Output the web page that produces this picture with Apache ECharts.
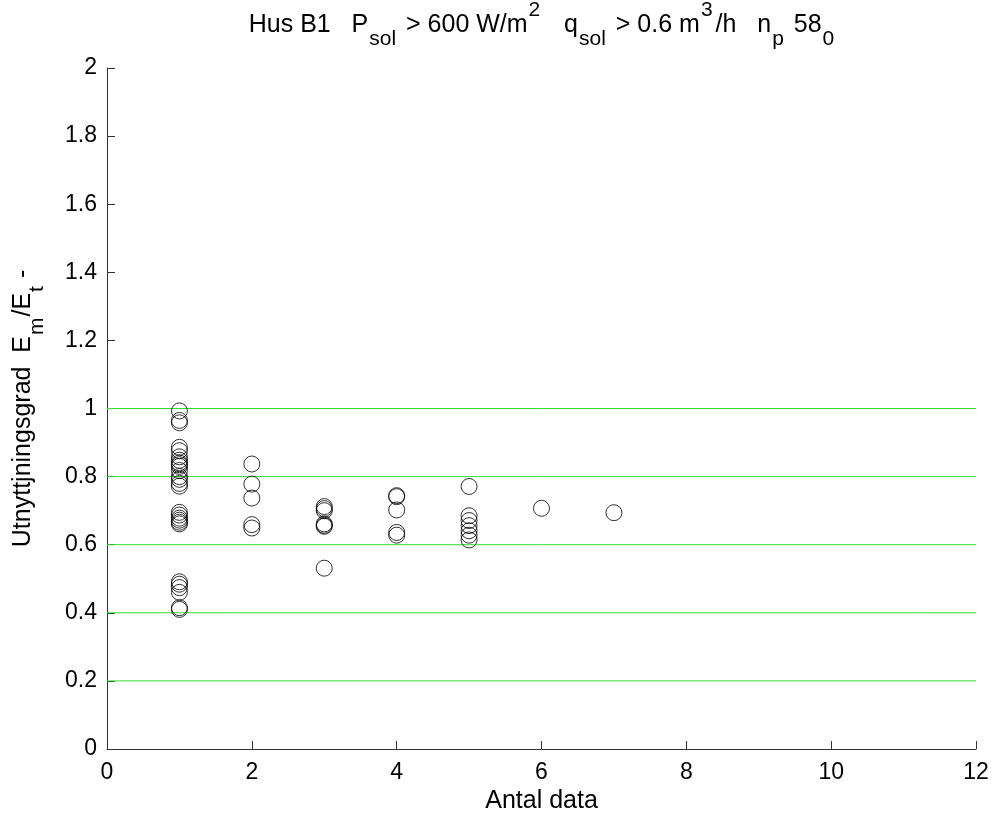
<!DOCTYPE html>
<html>
<head>
<meta charset="utf-8">
<script src="https://cdn.jsdelivr.net/npm/echarts@6/dist/echarts.min.js"></script>
<style>
html,body{margin:0;padding:0;background:#fff;}
#chart{width:994px;height:820px;}
</style>
</head>
<body>
<div id="chart"></div>
<script>
// Antal data (x) and Utnyttjningsgrad values per x
const antal1 = [0.993, 0.965, 0.958, 0.886, 0.876, 0.858, 0.848, 0.84, 0.835, 0.83, 0.818, 0.80, 0.792, 0.78, 0.772,
                0.695, 0.687, 0.678, 0.672, 0.666, 0.661, 0.491, 0.484, 0.474, 0.46, 0.415, 0.41];
const antal2 = [0.837, 0.778, 0.737, 0.659, 0.649];
const antal3 = [0.712, 0.706, 0.70, 0.661, 0.657, 0.654, 0.531];
const antal4 = [0.744, 0.741, 0.702, 0.636, 0.628];
const antal5 = [0.771, 0.685, 0.671, 0.656, 0.641, 0.628, 0.614];
const antal6 = [0.707];
const antal7 = [0.694];
const groups = [[1, antal1], [2, antal2], [3, antal3], [4, antal4], [5, antal5], [6, antal6], [7, antal7]];
const gridLevels = [0.2, 0.4, 0.6, 0.8, 1.0];
const xRange = [0, 12];

const points = [];
groups.forEach(([x, vals]) => vals.forEach(v => points.push([x, v])));

const FONT = 'Liberation Sans';
const chart = echarts.init(document.getElementById('chart'), null, {renderer: 'canvas'});

const levelSeries = gridLevels.map(v => ({
  type: 'line',
  data: [[xRange[0], v], [xRange[1], v]],
  symbol: 'none',
  silent: true,
  lineStyle: {color: '#33dd33', width: 1},
  z: 1
}));

const subStyle = {fontFamily: FONT, fontSize: 21, lineHeight: 22, verticalAlign: 'bottom', color: '#000', padding: [0, 3, 0, 1]};
const supStyle = {fontFamily: FONT, fontSize: 21, lineHeight: 34, verticalAlign: 'top', color: '#000', padding: [0, 3, 0, 1]};
const ySubStyle = {fontFamily: FONT, fontSize: 21, lineHeight: 22, verticalAlign: 'bottom', color: '#000', padding: [0, 1, 0, 1]};

chart.setOption({
  animation: false,
  backgroundColor: '#fff',
  title: {
    text: 'Hus B1   P{sub|sol} > 600 W/m{sup|2}   q{sub|sol} > 0.6 m{sup|3}/h   n{sub|p} 58{sub|0}',
    left: 543,
    textAlign: 'center',
    top: 0,
    padding: 0,
    textStyle: {
      fontFamily: FONT, fontSize: 25, fontWeight: 'normal', color: '#000',
      lineHeight: 50,
      rich: {sub: subStyle, sup: supStyle}
    }
  },
  grid: {left: 107, right: 18, top: 68, bottom: 71, containLabel: false, outerBoundsMode: 'none'},
  xAxis: {
    type: 'value', min: 0, max: 12, interval: 2,
    name: 'Antal data', nameLocation: 'middle', nameGap: 38,
    nameTextStyle: {fontFamily: FONT, fontSize: 25, color: '#000'},
    axisLine: {show: true, onZero: false, lineStyle: {color: '#333', width: 1}},
    axisTick: {show: true, inside: true, length: 8, lineStyle: {color: '#333'}},
    axisLabel: {fontFamily: FONT, fontSize: 23, color: '#000', margin: 12},
    splitLine: {show: false}
  },
  yAxis: {
    type: 'value', min: 0, max: 2, interval: 0.2,
    name: 'Utnyttjningsgrad  E{sub|m}/E{sub|t} -',
    nameLocation: 'middle', nameRotate: 90, nameGap: 59,
    nameTextStyle: {
      fontFamily: FONT, fontSize: 25, color: '#000', lineHeight: 50,
      rich: {sub: ySubStyle}
    },
    axisLine: {show: true, onZero: false, lineStyle: {color: '#333', width: 1}},
    axisTick: {show: true, inside: true, length: 8, lineStyle: {color: '#333'}},
    axisLabel: {fontFamily: FONT, fontSize: 23, color: '#000', margin: 10},
    splitLine: {show: false}
  },
  series: levelSeries.concat([{
    type: 'scatter',
    data: points,
    symbol: 'circle',
    symbolSize: 16,
    itemStyle: {color: 'transparent', borderColor: '#000', borderWidth: 1},
    z: 3
  }])
});
</script>
</body>
</html>
